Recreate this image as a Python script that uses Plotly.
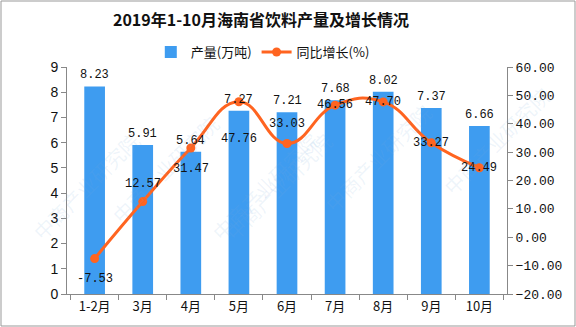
import plotly.graph_objects as go

categories = ["1-2月", "3月", "4月", "5月", "6月", "7月", "8月", "9月", "10月"]
output_vals = [8.23, 5.91, 5.64, 7.27, 7.21, 7.68, 8.02, 7.37, 6.66]
growth_vals = [-7.53, 12.57, 31.47, 47.76, 33.03, 46.56, 47.70, 33.27, 24.49]
growth_label_shift = [-20, 18, -21, -37, 20, 0, 0, 0, 0]

BAR = "#3E9CF0"
LINE = "#FF6420"
CJK = "Noto Sans CJK SC"
MONO = "Liberation Mono"

fig = go.Figure()
fig.add_trace(go.Bar(x=categories, y=output_vals, name="产量(万吨)",
                     marker=dict(color=BAR, line=dict(width=0)), width=0.43, yaxis="y"))
fig.add_trace(go.Scatter(x=categories, y=growth_vals, name="同比增长(%)", yaxis="y2",
                         mode="lines+markers",
                         line=dict(color=LINE, width=3, shape="spline", smoothing=1.3),
                         marker=dict(color=LINE, size=9)))

ann = []
for c, v in zip(categories, output_vals):
    ann.append(dict(x=c, y=v, xref="x", yref="y", text=f"{v:.2f}", showarrow=False,
                    yshift=11, font=dict(family=MONO, size=12, color="#111")))
for c, v, s in zip(categories, growth_vals, growth_label_shift):
    ann.append(dict(x=c, y=v, xref="x", yref="y2", text=f"{v:.2f}", showarrow=False,
                    yshift=s, font=dict(family=MONO, size=12, color="#111")))

# watermark
for (wx, wy) in [(0.08, 0.55), (0.45, 0.75), (0.48, 0.2), (0.85, 0.6), (1.12, 0.95), (-0.1, 0.2)]:
    ann.append(dict(x=wx, y=wy, xref="paper", yref="paper", text="中商产业研究院", showarrow=False,
                    textangle=-45, font=dict(family=CJK, size=20, color="rgba(120,170,220,0.13)")))

fig.update_layout(
    width=576, height=327,
    margin=dict(l=67, r=69, t=67, b=33),
    paper_bgcolor="white", plot_bgcolor="white",
    title=dict(text="<b>2019年1-10月海南省饮料产量及增长情况</b>", x=261/576, xanchor="center",
               y=1 - 20/327, yanchor="middle", font=dict(family=CJK, size=16, color="#111")),
    legend=dict(orientation="h", x=0.445, xanchor="center", y=1.066, yanchor="middle",
                font=dict(family=CJK, size=13, color="#111"), bgcolor="rgba(0,0,0,0)",
                itemwidth=30, tracegroupgap=0),
    bargap=0.57,
    xaxis=dict(showline=True, linecolor="#888", linewidth=1, ticks="outside", ticklen=5,
               tickcolor="#888", showgrid=False, tickson="boundaries",
               tickfont=dict(family=CJK, size=13, color="#111")),
    yaxis=dict(range=[0, 9], dtick=1, showline=True, linecolor="#888", linewidth=1,
               ticks="outside", ticklen=5, tickcolor="#888", showgrid=False, zeroline=False,
               tickfont=dict(family="Liberation Sans", size=14, color="#111")),
    yaxis2=dict(range=[-20, 60], dtick=10, overlaying="y", side="right", tickformat=".2f",
                showline=True, linecolor="#888", linewidth=1, ticks="outside", ticklen=5,
                tickcolor="#888", showgrid=False, zeroline=False,
                tickfont=dict(family=MONO, size=13, color="#111")),
    annotations=ann,
    shapes=[dict(type="rect", xref="paper", yref="paper",
                 x0=-66/440, x1=(575-67)/440, y0=-32/227, y1=1 + 66/227,
                 line=dict(color="#999", width=1))],
    showlegend=True,
)

fig.write_html("out.html")
